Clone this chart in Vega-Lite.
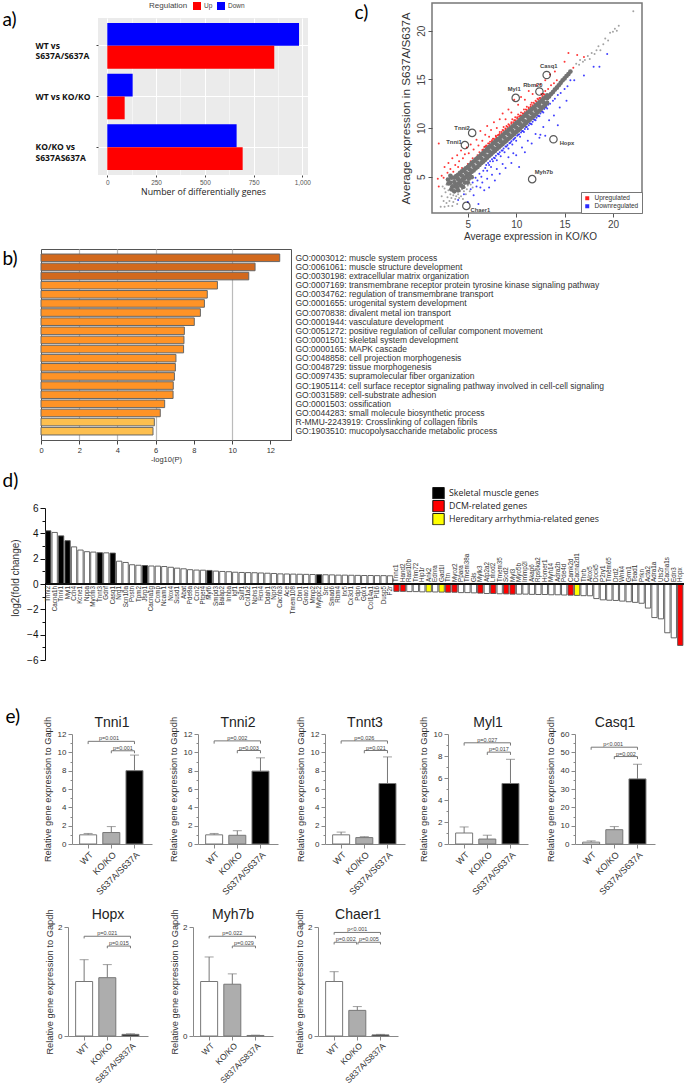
{"$schema":"https://vega.github.io/schema/vega-lite/v6.json","padding":0,"autosize":{"type":"pad"},"background":"white","bounds":"flush","spacing":0,"resolve":{"scale":{"color":"independent"},"legend":{"color":"independent"}},
"config":{"font":"Liberation Sans","view":{"stroke":null},"point":{"size":1,"strokeWidth":0},"axis":{"grid":false,"labelFontSize":8,"labelColor":"#333","domainColor":"#888","tickColor":"#888","tickSize":4,"titleFontSize":9.3,"titleFontWeight":"normal","titleColor":"#333","labelPadding":2,"labelOverlap":false,"labelFlush":false},"title":{"fontSize":14,"fontWeight":"normal","offset":-13.5,"color":"#222"}},
"datasets":{
"a":[{"c":"WT vs|S637A/S637A","r":"Down","v":983},{"c":"WT vs|S637A/S637A","r":"Up","v":856},{"c":"WT vs KO/KO","r":"Down","v":130},{"c":"WT vs KO/KO","r":"Up","v":89},{"c":"KO/KO vs|S637AS637A","r":"Down","v":663},{"c":"KO/KO vs|S637AS637A","r":"Up","v":694}],
"b":[{"n":"GO:0003012: muscle system process","v":12.49,"g":"h"},{"n":"GO:0061061: muscle structure development","v":11.2,"g":"h"},{"n":"GO:0030198: extracellular matrix organization","v":10.87,"g":"h"},{"n":"GO:0007169: transmembrane receptor protein tyrosine kinase signaling pathway","v":9.23,"g":"m"},{"n":"GO:0034762: regulation of transmembrane transport","v":8.7,"g":"m"},{"n":"GO:0001655: urogenital system development","v":8.55,"g":"m"},{"n":"GO:0070838: divalent metal ion transport","v":8.34,"g":"m"},{"n":"GO:0001944: vasculature development","v":8.02,"g":"m"},{"n":"GO:0051272: positive regulation of cellular component movement","v":7.5,"g":"m"},{"n":"GO:0001501: skeletal system development","v":7.48,"g":"m"},{"n":"GO:0000165: MAPK cascade","v":7.46,"g":"m"},{"n":"GO:0048858: cell projection morphogenesis","v":7.06,"g":"m"},{"n":"GO:0048729: tissue morphogenesis","v":7.03,"g":"m"},{"n":"GO:0097435: supramolecular fiber organization","v":6.98,"g":"m"},{"n":"GO:1905114: cell surface receptor signaling pathway involved in cell-cell signaling","v":6.92,"g":"m"},{"n":"GO:0031589: cell-substrate adhesion","v":6.91,"g":"m"},{"n":"GO:0001503: ossification","v":6.47,"g":"m"},{"n":"GO:0044283: small molecule biosynthetic process","v":6.24,"g":"m"},{"n":"R-MMU-2243919: Crosslinking of collagen fibrils","v":5.93,"g":"l"},{"n":"GO:1903510: mucopolysaccharide metabolic process","v":5.86,"g":"l"}],
"pts":[{"x":6.5,"y":7.75,"r":"u"},{"x":6.7,"y":8.05,"r":"u"},{"x":6.9,"y":8.2,"r":"u"},{"x":7.1,"y":8.4,"r":"u"},{"x":7.3,"y":8.6,"r":"u"},{"x":7.5,"y":8.75,"r":"u"},{"x":7.7,"y":8.9,"r":"u"},{"x":7.9,"y":9.1,"r":"u"},{"x":8.1,"y":9.25,"r":"u"},{"x":8.3,"y":9.4,"r":"u"},{"x":8.5,"y":9.6,"r":"u"},{"x":8.7,"y":9.75,"r":"u"},{"x":8.9,"y":9.95,"r":"u"},{"x":9.1,"y":10.1,"r":"u"},{"x":9.3,"y":10.3,"r":"u"},{"x":9.5,"y":10.45,"r":"u"},{"x":9.7,"y":10.6,"r":"u"},{"x":9.9,"y":10.8,"r":"u"},{"x":10.1,"y":10.95,"r":"u"},{"x":10.3,"y":11.15,"r":"u"},{"x":10.5,"y":11.3,"r":"u"},{"x":10.7,"y":11.5,"r":"u"},{"x":10.9,"y":11.65,"r":"u"},{"x":11.1,"y":11.85,"r":"u"},{"x":11.3,"y":12.0,"r":"u"},{"x":11.5,"y":12.2,"r":"u"},{"x":11.7,"y":12.35,"r":"u"},{"x":11.9,"y":12.5,"r":"u"},{"x":12.1,"y":12.7,"r":"u"},{"x":12.3,"y":12.9,"r":"u"},{"x":12.5,"y":13.1,"r":"u"},{"x":12.7,"y":13.3,"r":"u"},{"x":12.9,"y":13.45,"r":"u"},{"x":6.9,"y":6.2,"r":"d"},{"x":7.1,"y":6.4,"r":"d"},{"x":7.3,"y":6.6,"r":"d"},{"x":7.5,"y":6.8,"r":"d"},{"x":7.7,"y":6.95,"r":"d"},{"x":7.9,"y":7.15,"r":"d"},{"x":8.1,"y":7.35,"r":"d"},{"x":8.3,"y":7.5,"r":"d"},{"x":8.5,"y":7.7,"r":"d"},{"x":8.7,"y":7.9,"r":"d"},{"x":8.9,"y":8.1,"r":"d"},{"x":9.1,"y":8.25,"r":"d"},{"x":9.3,"y":8.45,"r":"d"},{"x":9.5,"y":8.65,"r":"d"},{"x":9.7,"y":8.8,"r":"d"},{"x":9.9,"y":9.0,"r":"d"},{"x":10.1,"y":9.2,"r":"d"},{"x":10.3,"y":9.35,"r":"d"},{"x":10.5,"y":9.55,"r":"d"},{"x":10.7,"y":9.7,"r":"d"},{"x":10.9,"y":9.9,"r":"d"},{"x":11.1,"y":10.1,"r":"d"},{"x":11.3,"y":10.3,"r":"d"},{"x":11.5,"y":10.45,"r":"d"},{"x":11.7,"y":10.65,"r":"d"},{"x":11.9,"y":10.85,"r":"d"},{"x":12.1,"y":11.05,"r":"d"},{"x":12.3,"y":11.25,"r":"d"},{"x":12.5,"y":11.5,"r":"d"},{"x":12.7,"y":11.7,"r":"d"},{"x":12.9,"y":11.95,"r":"d"},{"x":13.1,"y":12.15,"r":"d"},{"x":13.3,"y":12.4,"r":"d"},
{"x":5.0,"y":6.3,"r":"u"},{"x":5.3,"y":6.6,"r":"u"},{"x":5.5,"y":6.9,"r":"u"},{"x":5.8,"y":6.9,"r":"u"},{"x":6.0,"y":7.2,"r":"u"},{"x":6.2,"y":7.5,"r":"u"},{"x":6.4,"y":7.4,"r":"u"},{"x":6.6,"y":7.8,"r":"u"},{"x":6.8,"y":8.1,"r":"u"},{"x":7.0,"y":8.1,"r":"u"},{"x":7.2,"y":8.4,"r":"u"},{"x":7.3,"y":8.2,"r":"u"},{"x":7.5,"y":8.6,"r":"u"},{"x":7.6,"y":8.9,"r":"u"},{"x":7.8,"y":8.8,"r":"u"},{"x":7.9,"y":9.2,"r":"u"},{"x":8.0,"y":9.0,"r":"u"},{"x":8.2,"y":9.3,"r":"u"},{"x":8.3,"y":9.6,"r":"u"},{"x":8.5,"y":9.4,"r":"u"},{"x":8.6,"y":9.8,"r":"u"},{"x":8.7,"y":10.1,"r":"u"},{"x":8.9,"y":9.9,"r":"u"},{"x":9.0,"y":10.2,"r":"u"},{"x":9.2,"y":10.4,"r":"u"},{"x":9.3,"y":10.1,"r":"u"},{"x":9.5,"y":10.6,"r":"u"},{"x":9.6,"y":10.9,"r":"u"},{"x":9.8,"y":10.8,"r":"u"},{"x":9.9,"y":11.1,"r":"u"},{"x":10.1,"y":11.1,"r":"u"},{"x":10.2,"y":11.4,"r":"u"},{"x":10.4,"y":11.3,"r":"u"},{"x":10.5,"y":11.6,"r":"u"},{"x":10.7,"y":11.5,"r":"u"},{"x":10.8,"y":11.9,"r":"u"},{"x":11.0,"y":11.9,"r":"u"},{"x":11.1,"y":12.2,"r":"u"},{"x":11.3,"y":12.1,"r":"u"},{"x":11.5,"y":12.4,"r":"u"},{"x":11.6,"y":12.6,"r":"u"},{"x":11.8,"y":12.6,"r":"u"},{"x":12.0,"y":12.8,"r":"u"},{"x":12.2,"y":13.0,"r":"u"},{"x":12.4,"y":13.1,"r":"u"},{"x":12.6,"y":13.5,"r":"u"},{"x":12.8,"y":13.5,"r":"u"},{"x":13.0,"y":13.8,"r":"u"},{"x":13.3,"y":14.0,"r":"u"},{"x":13.6,"y":14.4,"r":"u"},{"x":13.9,"y":14.6,"r":"u"},{"x":14.2,"y":14.9,"r":"u"},{"x":2.0,"y":8.4,"r":"u"},{"x":1.9,"y":4.8,"r":"u"},{"x":2.0,"y":4.0,"r":"u"},{"x":2.3,"y":5.1,"r":"u"},{"x":2.5,"y":4.9,"r":"u"},{"x":2.6,"y":6.0,"r":"u"},{"x":2.9,"y":5.4,"r":"u"},{"x":3.0,"y":6.4,"r":"u"},{"x":3.2,"y":5.8,"r":"u"},{"x":3.4,"y":6.9,"r":"u"},{"x":3.5,"y":5.5,"r":"u"},{"x":3.7,"y":6.2,"r":"u"},{"x":3.9,"y":7.2,"r":"u"},{"x":4.0,"y":6.0,"r":"u"},{"x":4.1,"y":6.6,"r":"u"},{"x":4.3,"y":7.7,"r":"u"},{"x":4.4,"y":5.9,"r":"u"},{"x":4.5,"y":6.9,"r":"u"},{"x":4.7,"y":7.3,"r":"u"},{"x":4.9,"y":8.0,"r":"u"},{"x":5.1,"y":7.4,"r":"u"},{"x":5.3,"y":8.3,"r":"u"},{"x":5.6,"y":7.8,"r":"u"},{"x":5.9,"y":8.8,"r":"u"},{"x":6.1,"y":8.2,"r":"u"},{"x":6.3,"y":9.7,"r":"u"},{"x":6.5,"y":8.7,"r":"u"},{"x":6.8,"y":9.3,"r":"u"},{"x":7.0,"y":10.2,"r":"u"},{"x":7.2,"y":9.1,"r":"u"},{"x":7.4,"y":9.8,"r":"u"},{"x":7.7,"y":10.6,"r":"u"},{"x":8.0,"y":10.0,"r":"u"},{"x":8.3,"y":10.9,"r":"u"},{"x":8.6,"y":11.5,"r":"u"},{"x":8.9,"y":10.9,"r":"u"},{"x":9.2,"y":11.9,"r":"u"},{"x":9.5,"y":11.6,"r":"u"},{"x":9.8,"y":12.9,"r":"u"},{"x":10.2,"y":12.4,"r":"u"},{"x":10.5,"y":13.2,"r":"u"},{"x":10.9,"y":12.9,"r":"u"},{"x":11.3,"y":13.8,"r":"u"},{"x":11.7,"y":13.5,"r":"u"},{"x":12.1,"y":14.4,"r":"u"},{"x":12.5,"y":14.5,"r":"u"},{"x":13.0,"y":14.9,"r":"u"},{"x":13.5,"y":15.5,"r":"u"},{"x":14.0,"y":15.8,"r":"u"},{"x":15.0,"y":16.8,"r":"u"},{"x":15.4,"y":17.7,"r":"u"},{"x":16.3,"y":17.5,"r":"u"},{"x":15.9,"y":16.2,"r":"u"},{"x":17.0,"y":17.3,"r":"u"},
{"x":5.5,"y":4.4,"r":"d"},{"x":5.8,"y":4.9,"r":"d"},{"x":6.0,"y":4.6,"r":"d"},{"x":6.2,"y":5.3,"r":"d"},{"x":6.4,"y":5.0,"r":"d"},{"x":6.6,"y":5.6,"r":"d"},{"x":6.8,"y":5.9,"r":"d"},{"x":7.0,"y":5.6,"r":"d"},{"x":7.2,"y":6.2,"r":"d"},{"x":7.4,"y":6.0,"r":"d"},{"x":7.6,"y":6.6,"r":"d"},{"x":7.8,"y":6.9,"r":"d"},{"x":8.0,"y":6.7,"r":"d"},{"x":8.2,"y":7.3,"r":"d"},{"x":8.4,"y":7.1,"r":"d"},{"x":8.6,"y":7.7,"r":"d"},{"x":8.8,"y":7.5,"r":"d"},{"x":9.0,"y":8.1,"r":"d"},{"x":9.2,"y":7.9,"r":"d"},{"x":9.4,"y":8.5,"r":"d"},{"x":9.6,"y":8.3,"r":"d"},{"x":9.8,"y":8.9,"r":"d"},{"x":10.0,"y":8.7,"r":"d"},{"x":10.2,"y":9.3,"r":"d"},{"x":10.4,"y":9.1,"r":"d"},{"x":10.6,"y":9.7,"r":"d"},{"x":10.8,"y":9.6,"r":"d"},{"x":11.0,"y":10.1,"r":"d"},{"x":11.2,"y":9.9,"r":"d"},{"x":11.4,"y":10.5,"r":"d"},{"x":11.6,"y":10.4,"r":"d"},{"x":11.8,"y":10.9,"r":"d"},{"x":12.0,"y":10.8,"r":"d"},{"x":12.2,"y":11.3,"r":"d"},{"x":12.4,"y":11.2,"r":"d"},{"x":12.6,"y":11.7,"r":"d"},{"x":12.8,"y":11.6,"r":"d"},{"x":13.0,"y":12.1,"r":"d"},{"x":13.2,"y":12.0,"r":"d"},{"x":13.5,"y":12.5,"r":"d"},{"x":13.8,"y":12.8,"r":"d"},{"x":14.0,"y":13.0,"r":"d"},{"x":14.3,"y":13.4,"r":"d"},{"x":14.6,"y":13.6,"r":"d"},{"x":15.0,"y":14.0,"r":"d"},{"x":15.3,"y":14.3,"r":"d"},{"x":15.6,"y":14.9,"r":"d"},{"x":16.0,"y":14.9,"r":"d"},{"x":4.0,"y":2.6,"r":"d"},{"x":4.6,"y":3.2,"r":"d"},{"x":5.0,"y":2.4,"r":"d"},{"x":5.3,"y":3.7,"r":"d"},{"x":5.6,"y":3.1,"r":"d"},{"x":5.9,"y":4.0,"r":"d"},{"x":6.1,"y":2.2,"r":"d"},{"x":6.3,"y":3.9,"r":"d"},{"x":6.5,"y":4.4,"r":"d"},{"x":6.7,"y":3.6,"r":"d"},{"x":7.0,"y":4.8,"r":"d"},{"x":7.2,"y":3.9,"r":"d"},{"x":7.5,"y":5.2,"r":"d"},{"x":7.8,"y":4.6,"r":"d"},{"x":8.0,"y":5.8,"r":"d"},{"x":8.3,"y":5.3,"r":"d"},{"x":8.6,"y":6.3,"r":"d"},{"x":8.9,"y":5.9,"r":"d"},{"x":9.2,"y":7.0,"r":"d"},{"x":9.5,"y":6.4,"r":"d"},{"x":9.7,"y":7.4,"r":"d"},{"x":10.0,"y":7.2,"r":"d"},{"x":10.3,"y":6.0,"r":"d"},{"x":10.6,"y":8.0,"r":"d"},{"x":10.9,"y":7.5,"r":"d"},{"x":11.2,"y":8.7,"r":"d"},{"x":11.6,"y":8.4,"r":"d"},{"x":12.0,"y":9.4,"r":"d"},{"x":12.4,"y":9.0,"r":"d"},{"x":12.8,"y":10.1,"r":"d"},{"x":13.0,"y":9.2,"r":"d"},{"x":13.4,"y":10.8,"r":"d"},{"x":13.9,"y":11.3,"r":"d"},{"x":14.3,"y":10.3,"r":"d"},{"x":14.5,"y":12.1,"r":"d"},{"x":15.2,"y":12.8,"r":"d"},{"x":12.5,"y":9.3,"r":"d"},{"x":17.0,"y":15.4,"r":"d"},{"x":18.0,"y":16.3,"r":"d"},{"x":18.6,"y":16.3,"r":"d"},{"x":19.4,"y":17.6,"r":"d"},
{"x":2.2,"y":1.9,"r":"n"},{"x":2.6,"y":1.9,"r":"n"},{"x":3.0,"y":2.0,"r":"n"},{"x":3.4,"y":2.0,"r":"n"},{"x":2.3,"y":3.0,"r":"n"},{"x":2.5,"y":2.5,"r":"n"},{"x":2.7,"y":3.4,"r":"n"},{"x":2.8,"y":2.3,"r":"n"},{"x":2.9,"y":2.9,"r":"n"},{"x":3.0,"y":3.6,"r":"n"},{"x":3.1,"y":2.5,"r":"n"},{"x":3.2,"y":3.2,"r":"n"},{"x":3.3,"y":2.8,"r":"n"},{"x":3.4,"y":3.6,"r":"n"},{"x":3.5,"y":2.4,"r":"n"},{"x":3.5,"y":3.1,"r":"n"},{"x":3.6,"y":3.4,"r":"n"},{"x":3.7,"y":2.7,"r":"n"},{"x":3.8,"y":3.0,"r":"n"},{"x":3.9,"y":3.5,"r":"n"},{"x":3.9,"y":2.2,"r":"n"},{"x":4.0,"y":3.2,"r":"n"},{"x":4.1,"y":2.8,"r":"n"},{"x":4.2,"y":3.5,"r":"n"},{"x":4.3,"y":3.0,"r":"n"},{"x":4.4,"y":3.7,"r":"n"},{"x":4.5,"y":2.7,"r":"n"},{"x":4.6,"y":3.5,"r":"n"},{"x":4.7,"y":3.9,"r":"n"},{"x":4.8,"y":3.2,"r":"n"},{"x":4.9,"y":3.7,"r":"n"},{"x":5.0,"y":4.1,"r":"n"},{"x":5.2,"y":3.5,"r":"n"},{"x":5.3,"y":4.2,"r":"n"},{"x":5.5,"y":3.9,"r":"n"},{"x":2.4,"y":4.0,"r":"n"},{"x":2.8,"y":4.2,"r":"n"},{"x":2.6,"y":3.8,"r":"n"},{"x":3.0,"y":4.7,"r":"n"},{"x":3.1,"y":4.2,"r":"n"},{"x":16.2,"y":16.6,"r":"n"},{"x":16.5,"y":16.5,"r":"n"},{"x":16.6,"y":17.0,"r":"n"},{"x":16.9,"y":16.8,"r":"n"},{"x":17.1,"y":17.0,"r":"n"},{"x":17.4,"y":17.4,"r":"n"},{"x":17.6,"y":17.1,"r":"n"},{"x":17.8,"y":17.7,"r":"n"},{"x":18.1,"y":17.6,"r":"n"},{"x":18.3,"y":18.0,"r":"n"},{"x":18.5,"y":18.4,"r":"n"},{"x":18.7,"y":18.0,"r":"n"},{"x":19.0,"y":18.6,"r":"n"},{"x":19.2,"y":19.2,"r":"n"},{"x":19.5,"y":19.0,"r":"n"},{"x":19.7,"y":19.8,"r":"n"},{"x":20.0,"y":19.9,"r":"n"},{"x":20.2,"y":20.2,"r":"n"},{"x":20.4,"y":20.0,"r":"n"},{"x":20.6,"y":20.5,"r":"n"},{"x":22.1,"y":22.0,"r":"n"}],
"core":[{"x":3.6,"y":4.9},{"x":3.8,"y":5.05},{"x":4.0,"y":5.2},{"x":4.2,"y":5.4},{"x":4.4,"y":5.55},{"x":4.6,"y":5.7},{"x":4.8,"y":5.85},{"x":5.0,"y":6.0},{"x":5.2,"y":6.2},{"x":5.4,"y":6.4},{"x":5.6,"y":6.55},{"x":5.8,"y":6.75},{"x":6.0,"y":6.9},{"x":6.2,"y":7.1},{"x":6.4,"y":7.3},{"x":6.6,"y":7.45},{"x":6.8,"y":7.65},{"x":7.0,"y":7.85},{"x":7.2,"y":8.05},{"x":7.4,"y":8.2},{"x":7.6,"y":8.4},{"x":7.8,"y":8.55},{"x":8.0,"y":8.75},{"x":8.2,"y":8.9},{"x":8.4,"y":9.1},{"x":8.6,"y":9.25},{"x":8.8,"y":9.45},{"x":9.0,"y":9.6},{"x":9.2,"y":9.8},{"x":9.4,"y":9.95},{"x":9.6,"y":10.15},{"x":9.8,"y":10.3},{"x":10.0,"y":10.5},{"x":10.2,"y":10.65},{"x":10.4,"y":10.85},{"x":10.6,"y":11.05},{"x":10.8,"y":11.2},{"x":11.0,"y":11.4},{"x":11.2,"y":11.6},{"x":11.4,"y":11.75},{"x":11.6,"y":11.95},{"x":11.8,"y":12.1},{"x":12.0,"y":12.3},{"x":12.2,"y":12.45},{"x":12.4,"y":12.65},{"x":12.6,"y":12.8},{"x":12.8,"y":13.0},{"x":13.0,"y":13.15},{"x":13.2,"y":13.35},{"x":3.6,"y":4.0},{"x":3.8,"y":4.15},{"x":4.0,"y":4.3},{"x":4.2,"y":4.5},{"x":4.4,"y":4.65},{"x":4.6,"y":4.8},{"x":4.8,"y":4.95},{"x":5.0,"y":5.1},{"x":5.2,"y":5.3},{"x":5.4,"y":5.5},{"x":5.6,"y":5.65},{"x":5.8,"y":5.85},{"x":6.0,"y":6.0},{"x":6.2,"y":6.2},{"x":6.4,"y":6.4},{"x":6.6,"y":6.55},{"x":6.8,"y":6.75},{"x":7.0,"y":6.95},{"x":7.2,"y":7.15},{"x":7.4,"y":7.3},{"x":7.6,"y":7.5},{"x":7.8,"y":7.65},{"x":8.0,"y":7.85},{"x":8.2,"y":8.0},{"x":8.4,"y":8.2},{"x":8.6,"y":8.35},{"x":8.8,"y":8.55},{"x":9.0,"y":8.7},{"x":9.2,"y":8.9},{"x":9.4,"y":9.05},{"x":9.6,"y":9.25},{"x":9.8,"y":9.4},{"x":10.0,"y":9.6},{"x":10.2,"y":9.75},{"x":10.4,"y":9.95},{"x":10.6,"y":10.15},{"x":10.8,"y":10.3},{"x":11.0,"y":10.5},{"x":11.2,"y":10.7},{"x":11.4,"y":10.85},{"x":11.6,"y":11.05},{"x":11.8,"y":11.2},{"x":12.0,"y":11.4},{"x":12.2,"y":11.6},{"x":12.4,"y":11.8},{"x":12.6,"y":12.0},{"x":12.8,"y":12.2},{"x":13.0,"y":12.4},{"x":13.2,"y":12.6},{"x":3.6,"y":4.45},{"x":4.0,"y":4.75},{"x":4.4,"y":5.1},{"x":4.8,"y":5.4},{"x":5.2,"y":5.75},{"x":5.6,"y":6.1},{"x":6.0,"y":6.45},{"x":6.4,"y":6.85},{"x":6.8,"y":7.2},{"x":7.2,"y":7.6},{"x":7.6,"y":7.95},{"x":8.0,"y":8.3},{"x":8.4,"y":8.65},{"x":8.8,"y":9.0},{"x":9.2,"y":9.35},{"x":9.6,"y":9.7},{"x":10.0,"y":10.05},{"x":10.4,"y":10.4},{"x":10.8,"y":10.75},{"x":11.2,"y":11.15},{"x":11.6,"y":11.5},{"x":12.0,"y":11.85},{"x":12.4,"y":12.25},{"x":12.8,"y":12.65},{"x":13.2,"y":13.05},{"x":13.4,"y":13.25},{"x":13.6,"y":13.5},{"x":13.8,"y":13.7},{"x":14.0,"y":13.95},{"x":14.2,"y":14.15},{"x":14.4,"y":14.4},{"x":14.6,"y":14.65},{"x":14.8,"y":14.9},{"x":15.0,"y":15.1},{"x":15.2,"y":15.35},{"x":15.4,"y":15.55},{"x":15.6,"y":15.8},{"x":3.2,"y":4.4},{"x":3.4,"y":4.0},{"x":3.9,"y":3.9},{"x":4.3,"y":4.1},{"x":4.7,"y":4.4},{"x":3.3,"y":4.9},{"x":5.1,"y":4.8},{"x":3.0,"y":4.3},{"x":3.3,"y":3.7},{"x":3.6,"y":3.5},{"x":4.0,"y":3.6},{"x":4.5,"y":3.95},{"x":5.0,"y":4.4},{"x":5.4,"y":4.95},{"x":2.95,"y":4.7},{"x":3.2,"y":5.1}],
"genes":[{"g":"Casq1","x":13.15,"y":15.45,"lx":13.37,"ly":16.35},{"g":"Rbm20","x":12.4,"y":13.75,"lx":11.72,"ly":14.42},{"g":"Myl1","x":9.95,"y":13.1,"lx":9.79,"ly":13.98},{"g":"Tnni2","x":5.45,"y":9.5,"lx":4.41,"ly":9.97},{"g":"Tnni1","x":4.7,"y":8.25,"lx":3.58,"ly":8.6},{"g":"Hopx","x":13.85,"y":8.85,"lx":15.24,"ly":8.43},{"g":"Myh7b","x":11.65,"y":4.75,"lx":12.86,"ly":5.45},{"g":"Chaer1","x":4.85,"y":2.0,"lx":6.3,"ly":1.55}],
"d":[{"n":"Tnni2","v":4.2,"t":"s"},{"n":"Cacna1h","v":4.07,"t":"o"},{"n":"Tnni1","v":3.8,"t":"s"},{"n":"Myl1","v":3.42,"t":"s"},{"n":"Ccn4","v":2.93,"t":"o"},{"n":"Kcne1","v":2.68,"t":"o"},{"n":"Nppa","v":2.55,"t":"o"},{"n":"Myom3","v":2.52,"t":"o"},{"n":"Tnnt3","v":2.47,"t":"s"},{"n":"Gdnf","v":2.46,"t":"o"},{"n":"Casq1","v":2.44,"t":"s"},{"n":"Nrg1","v":1.8,"t":"o"},{"n":"Scn10a","v":1.7,"t":"o"},{"n":"Postn","v":1.52,"t":"o"},{"n":"Tpm2","v":1.48,"t":"o"},{"n":"Jsrp1","v":1.46,"t":"s"},{"n":"Cacna1g","v":1.42,"t":"o"},{"n":"Comp","v":1.41,"t":"o"},{"n":"Ncam1","v":1.38,"t":"o"},{"n":"Nox4","v":1.32,"t":"o"},{"n":"Susd1","v":1.25,"t":"o"},{"n":"Abat","v":1.2,"t":"o"},{"n":"Pde8a","v":1.13,"t":"o"},{"n":"Ccn2","v":1.1,"t":"o"},{"n":"Ptger4","v":1.09,"t":"o"},{"n":"Myf6","v":1.07,"t":"s"},{"n":"Smpd3","v":1.02,"t":"o"},{"n":"Baiap2","v":0.99,"t":"o"},{"n":"Inhba","v":0.97,"t":"o"},{"n":"Igf1","v":0.93,"t":"o"},{"n":"Sulf1","v":0.91,"t":"o"},{"n":"Col1a2","v":0.9,"t":"o"},{"n":"Nphs1","v":0.89,"t":"o"},{"n":"Hcn4","v":0.87,"t":"o"},{"n":"Ddah1","v":0.85,"t":"o"},{"n":"Npr3","v":0.83,"t":"o"},{"n":"Cacnb3","v":0.8,"t":"o"},{"n":"Ace","v":0.79,"t":"o"},{"n":"Tmem108","v":0.78,"t":"o"},{"n":"Dbn1","v":0.77,"t":"o"},{"n":"Gnao1","v":0.76,"t":"o"},{"n":"Mmp2","v":0.75,"t":"o"},{"n":"Mybpc2","v":0.74,"t":"s"},{"n":"Src","v":0.73,"t":"o"},{"n":"Smad6","v":0.72,"t":"o"},{"n":"Rbm4","v":0.7,"t":"o"},{"n":"Irx5","v":0.7,"t":"o"},{"n":"Cx3cl1","v":0.69,"t":"o"},{"n":"Pdpn","v":0.68,"t":"o"},{"n":"Gpx1","v":0.67,"t":"o"},{"n":"Col14a1","v":0.67,"t":"o"},{"n":"Pi16","v":0.66,"t":"o"},{"n":"Dusp5","v":0.66,"t":"o"},{"n":"F2r","v":0.65,"t":"o"},{"n":"Tnnc1","v":-0.58,"t":"r"},{"n":"Hand2","v":-0.58,"t":"r"},{"n":"Rasl10b","v":-0.6,"t":"o"},{"n":"Trim72","v":-0.6,"t":"o"},{"n":"Hip1r","v":-0.62,"t":"o"},{"n":"Ank2","v":-0.62,"t":"y"},{"n":"Ednra","v":-0.63,"t":"o"},{"n":"Gad1l","v":-0.64,"t":"y"},{"n":"Ttn","v":-0.65,"t":"r"},{"n":"Myoz2","v":-0.65,"t":"r"},{"n":"Ppara","v":-0.68,"t":"o"},{"n":"Tmem38a","v":-0.68,"t":"o"},{"n":"Gls","v":-0.7,"t":"o"},{"n":"Mylk3","v":-0.72,"t":"r"},{"n":"Atp2a2","v":-0.75,"t":"o"},{"n":"Lmod2","v":-0.75,"t":"r"},{"n":"Tmem35","v":-0.77,"t":"o"},{"n":"Sod2","v":-0.78,"t":"r"},{"n":"Myl3","v":-0.8,"t":"r"},{"n":"Myo5b","v":-0.8,"t":"o"},{"n":"Immp2l","v":-0.8,"t":"o"},{"n":"Akap6","v":-0.82,"t":"o"},{"n":"Rps6ka2","v":-0.83,"t":"o"},{"n":"Homer1","v":-0.83,"t":"o"},{"n":"Myh14","v":-0.85,"t":"o"},{"n":"Adra2b","v":-0.85,"t":"o"},{"n":"Pde4d","v":-0.87,"t":"o"},{"n":"Camk2d","v":-0.88,"t":"r"},{"n":"Cacna2d1","v":-0.9,"t":"y"},{"n":"Thrb","v":-0.92,"t":"o"},{"n":"Alox5","v":-0.93,"t":"o"},{"n":"Dock5","v":-1.15,"t":"o"},{"n":"P2ry1","v":-1.25,"t":"o"},{"n":"Tmem65","v":-1.28,"t":"o"},{"n":"Drd2","v":-1.3,"t":"o"},{"n":"Wnk4","v":-1.35,"t":"o"},{"n":"Grm1","v":-1.4,"t":"o"},{"n":"Tead1","v":-1.45,"t":"o"},{"n":"Prkn","v":-1.52,"t":"o"},{"n":"Acta2","v":-1.9,"t":"o"},{"n":"Adra1a","v":-2.65,"t":"o"},{"n":"Uts2r","v":-2.75,"t":"o"},{"n":"Cacna1s","v":-3.85,"t":"o"},{"n":"Edn3","v":-4.25,"t":"o"},{"n":"Hopx","v":-4.85,"t":"r"}],
"e":[{"g":"Tnni1","k":"b","x":0,"y":1},{"g":"Tnni1","k":"b","x":1,"y":1.25},{"g":"Tnni1","k":"b","x":2,"y":8},{"g":"Tnni1","k":"c","x":0,"y":1.15,"y2":1},{"g":"Tnni1","k":"c","x":1,"y":1.9,"y2":1.25},{"g":"Tnni1","k":"c","x":2,"y":9.7,"y2":8},{"g":"Tnni1","k":"r","x":0,"x2":2,"y":11.2},{"g":"Tnni1","k":"r","x":1,"x2":2,"y":10.17},{"g":"Tnni1","k":"t","x":0,"y":11.2,"y2":10.9},{"g":"Tnni1","k":"t","x":2,"y":11.2,"y2":10.9},{"g":"Tnni1","k":"t","x":1,"y":10.17,"y2":9.9},{"g":"Tnni1","k":"t","x":2,"y":10.17,"y2":9.9},{"g":"Tnni1","k":"p","x":0.9,"y":11.2,"p":"p=0.001"},{"g":"Tnni1","k":"p","x":1.5,"y":10.17,"p":"p=0.001"},
{"g":"Tnni2","k":"b","x":0,"y":1},{"g":"Tnni2","k":"b","x":1,"y":0.95},{"g":"Tnni2","k":"b","x":2,"y":7.95},{"g":"Tnni2","k":"c","x":0,"y":1.15,"y2":1},{"g":"Tnni2","k":"c","x":1,"y":1.45,"y2":0.95},{"g":"Tnni2","k":"c","x":2,"y":9.4,"y2":7.95},{"g":"Tnni2","k":"r","x":0,"x2":2,"y":11.25},{"g":"Tnni2","k":"r","x":1,"x2":2,"y":10.2},{"g":"Tnni2","k":"t","x":0,"y":11.25,"y2":10.95},{"g":"Tnni2","k":"t","x":2,"y":11.25,"y2":10.95},{"g":"Tnni2","k":"t","x":1,"y":10.2,"y2":9.9},{"g":"Tnni2","k":"t","x":2,"y":10.2,"y2":9.9},{"g":"Tnni2","k":"p","x":1,"y":11.25,"p":"p=0.002"},{"g":"Tnni2","k":"p","x":1.5,"y":10.2,"p":"p=0.003"},
{"g":"Tnnt3","k":"b","x":0,"y":1},{"g":"Tnnt3","k":"b","x":1,"y":0.7},{"g":"Tnnt3","k":"b","x":2,"y":6.6},{"g":"Tnnt3","k":"c","x":0,"y":1.3,"y2":1},{"g":"Tnnt3","k":"c","x":1,"y":0.8,"y2":0.7},{"g":"Tnnt3","k":"c","x":2,"y":9.5,"y2":6.6},{"g":"Tnnt3","k":"r","x":0,"x2":2,"y":11.25},{"g":"Tnnt3","k":"r","x":1,"x2":2,"y":10.2},{"g":"Tnnt3","k":"t","x":0,"y":11.25,"y2":10.95},{"g":"Tnnt3","k":"t","x":2,"y":11.25,"y2":10.95},{"g":"Tnnt3","k":"t","x":1,"y":10.2,"y2":9.9},{"g":"Tnnt3","k":"t","x":2,"y":10.2,"y2":9.9},{"g":"Tnnt3","k":"p","x":1,"y":11.25,"p":"p=0.026"},{"g":"Tnnt3","k":"p","x":1.5,"y":10.2,"p":"p=0.021"},
{"g":"Myl1","k":"b","x":0,"y":1},{"g":"Myl1","k":"b","x":1,"y":0.45},{"g":"Myl1","k":"b","x":2,"y":5.5},{"g":"Myl1","k":"c","x":0,"y":1.55,"y2":1},{"g":"Myl1","k":"c","x":1,"y":0.8,"y2":0.45},{"g":"Myl1","k":"c","x":2,"y":7.7,"y2":5.5},{"g":"Myl1","k":"r","x":0,"x2":2,"y":9.2},{"g":"Myl1","k":"r","x":1,"x2":2,"y":8.35},{"g":"Myl1","k":"t","x":0,"y":9.2,"y2":8.95},{"g":"Myl1","k":"t","x":2,"y":9.2,"y2":8.95},{"g":"Myl1","k":"t","x":1,"y":8.35,"y2":8.1},{"g":"Myl1","k":"t","x":2,"y":8.35,"y2":8.1},{"g":"Myl1","k":"p","x":1,"y":9.2,"p":"p=0.027"},{"g":"Myl1","k":"p","x":1.5,"y":8.35,"p":"p=0.017"},
{"g":"Casq1","k":"b","x":0,"y":1},{"g":"Casq1","k":"b","x":1,"y":7.8},{"g":"Casq1","k":"b","x":2,"y":35.5},{"g":"Casq1","k":"c","x":0,"y":1.7,"y2":1},{"g":"Casq1","k":"c","x":1,"y":9.5,"y2":7.8},{"g":"Casq1","k":"c","x":2,"y":43.5,"y2":35.5},{"g":"Casq1","k":"r","x":0,"x2":2,"y":52.8},{"g":"Casq1","k":"r","x":1,"x2":2,"y":47.7},{"g":"Casq1","k":"t","x":0,"y":52.8,"y2":51.4},{"g":"Casq1","k":"t","x":2,"y":52.8,"y2":51.4},{"g":"Casq1","k":"t","x":1,"y":47.7,"y2":46.3},{"g":"Casq1","k":"t","x":2,"y":47.7,"y2":46.3},{"g":"Casq1","k":"p","x":0.95,"y":52.8,"p":"p<0.001"},{"g":"Casq1","k":"p","x":1.5,"y":47.7,"p":"p=0.002"},
{"g":"Hopx","k":"b","x":0,"y":1},{"g":"Hopx","k":"b","x":1,"y":1.07},{"g":"Hopx","k":"b","x":2,"y":0.03},{"g":"Hopx","k":"c","x":0,"y":1.4,"y2":1},{"g":"Hopx","k":"c","x":1,"y":1.31,"y2":1.07},{"g":"Hopx","k":"c","x":2,"y":0.04,"y2":0.03},{"g":"Hopx","k":"r","x":0,"x2":2,"y":1.83},{"g":"Hopx","k":"r","x":1,"x2":2,"y":1.65},{"g":"Hopx","k":"t","x":0,"y":1.83,"y2":1.79},{"g":"Hopx","k":"t","x":2,"y":1.83,"y2":1.79},{"g":"Hopx","k":"t","x":1,"y":1.65,"y2":1.61},{"g":"Hopx","k":"t","x":2,"y":1.65,"y2":1.61},{"g":"Hopx","k":"p","x":1,"y":1.83,"p":"p=0.021"},{"g":"Hopx","k":"p","x":1.5,"y":1.65,"p":"p=0.015"},
{"g":"Myh7b","k":"b","x":0,"y":1},{"g":"Myh7b","k":"b","x":1,"y":0.95},{"g":"Myh7b","k":"b","x":2,"y":0.01},{"g":"Myh7b","k":"c","x":0,"y":1.45,"y2":1},{"g":"Myh7b","k":"c","x":1,"y":1.14,"y2":0.95},{"g":"Myh7b","k":"c","x":2,"y":0.015,"y2":0.01},{"g":"Myh7b","k":"r","x":0,"x2":2,"y":1.83},{"g":"Myh7b","k":"r","x":1,"x2":2,"y":1.65},{"g":"Myh7b","k":"t","x":0,"y":1.83,"y2":1.79},{"g":"Myh7b","k":"t","x":2,"y":1.83,"y2":1.79},{"g":"Myh7b","k":"t","x":1,"y":1.65,"y2":1.61},{"g":"Myh7b","k":"t","x":2,"y":1.65,"y2":1.61},{"g":"Myh7b","k":"p","x":1,"y":1.83,"p":"p=0.022"},{"g":"Myh7b","k":"p","x":1.5,"y":1.65,"p":"p=0.029"},
{"g":"Chaer1","k":"b","x":0,"y":1},{"g":"Chaer1","k":"b","x":1,"y":0.47},{"g":"Chaer1","k":"b","x":2,"y":0.02},{"g":"Chaer1","k":"c","x":0,"y":1.18,"y2":1},{"g":"Chaer1","k":"c","x":1,"y":0.54,"y2":0.47},{"g":"Chaer1","k":"c","x":2,"y":0.03,"y2":0.02},{"g":"Chaer1","k":"r","x":0,"x2":2,"y":1.9},{"g":"Chaer1","k":"r","x":0,"x2":0.97,"y":1.72},{"g":"Chaer1","k":"r","x":1.03,"x2":2,"y":1.72},{"g":"Chaer1","k":"t","x":0,"y":1.9,"y2":1.86},{"g":"Chaer1","k":"t","x":2,"y":1.9,"y2":1.86},{"g":"Chaer1","k":"t","x":0,"y":1.72,"y2":1.68},{"g":"Chaer1","k":"t","x":0.97,"y":1.72,"y2":1.68},{"g":"Chaer1","k":"t","x":1.03,"y":1.72,"y2":1.68},{"g":"Chaer1","k":"t","x":2,"y":1.72,"y2":1.68},{"g":"Chaer1","k":"p","x":1,"y":1.9,"p":"p<0.001"},{"g":"Chaer1","k":"p","x":0.5,"y":1.72,"p":"p=0.002"},{"g":"Chaer1","k":"p","x":1.5,"y":1.72,"p":"p=0.005"}]
},
"vconcat":[
{"width":1,"height":3,"data":{"values":[{}]},"mark":{"type":"point","opacity":0}},
{"resolve":{"scale":{"color":"independent"},"legend":{"color":"independent"}},"hconcat":[{"width":432,"height":1,"data":{"values":[{}]},"mark":{"type":"point","opacity":0}},
{"width":210,"height":210,"view":{"stroke":"#777","strokeWidth":1.5},"layer":[
{"data":{"name":"pts"},"mark":{"type":"point","filled":true,"size":4,"opacity":0.9},"encoding":{"x":{"field":"x","type":"quantitative","scale":{"domain":[1.3,23],"nice":false},"axis":{"values":[5,10,15,20],"title":"Average expression in KO/KO","titleFontSize":10,"titleX":98,"titlePadding":2,"labelFontSize":10,"labelColor":"#444","tickColor":"#555","tickSize":4,"domain":false}},"y":{"field":"y","type":"quantitative","scale":{"domain":[1.27,22.85],"nice":false},"axis":{"values":[5,10,15,20],"title":"Average expression in S637A/S637A","titleFontSize":11.7,"titlePadding":5,"labelAngle":-90,"labelAlign":"center","labelBaseline":"bottom","labelFontSize":10,"labelColor":"#444","tickColor":"#555","tickSize":4,"domain":false}},"color":{"field":"r","type":"nominal","scale":{"domain":["u","d","n"],"range":["#ff2020","#2a2aff","#999999"]},"legend":{"orient":"bottom-right","offset":0,"title":null,"values":["u","d"],"labelExpr":"datum.value=='u'?'Upregulated':'Downregulated'","labelFontSize":6.5,"labelColor":"#333","symbolType":"square","symbolSize":16,"symbolOpacity":1,"strokeColor":"#777","fillColor":"white","padding":3,"rowPadding":1}}}},
{"data":{"name":"core"},"mark":{"type":"point","filled":true,"size":22,"opacity":1,"color":"#737373"},"encoding":{"x":{"field":"x","type":"quantitative"},"y":{"field":"y","type":"quantitative"}}},
{"data":{"name":"genes"},"mark":{"type":"point","size":55,"stroke":"#111","strokeWidth":1.2,"fill":null},"encoding":{"x":{"field":"x","type":"quantitative"},"y":{"field":"y","type":"quantitative"}}},
{"data":{"name":"genes"},"mark":{"type":"text","fontSize":5.8,"fontWeight":"bold","color":"#444"},"encoding":{"x":{"field":"lx","type":"quantitative"},"y":{"field":"ly","type":"quantitative"},"text":{"field":"g"}}}
]}],"spacing":0,"bounds":"flush"},
{"width":1,"height":9,"data":{"values":[{}]},"mark":{"type":"point","opacity":0}},
{"hconcat":[{"width":354,"height":1,"data":{"values":[{}]},"mark":{"type":"point","opacity":0}},{"width":1,"height":1,"data":{"values":[{"t":"c)"}]},"mark":{"type":"text","align":"left","fontSize":19,"font":"Lato"},"encoding":{"text":{"field":"t"}}}],"spacing":0,"bounds":"flush"},
{"width":1,"height":6,"data":{"values":[{}]},"mark":{"type":"point","opacity":0}},
{"resolve":{"scale":{"color":"independent"},"legend":{"color":"independent"}},"hconcat":[{"width":98,"height":1,"data":{"values":[{}]},"mark":{"type":"point","opacity":0}},
{"width":210,"height":157,"view":{"fill":"#ebebeb","stroke":null},"data":{"name":"a"},"mark":{"type":"bar"},"encoding":{"x":{"field":"v","type":"quantitative","scale":{"domain":[-47.7,1029],"nice":false},"axis":{"values":[0,125,250,375,500,625,750,875,1000],"title":"Number of differentially genes","titleFontSize":8.8,"titleFont":"Open Sans","titleColor":"#222","titlePadding":2,"grid":true,"gridColor":"white","gridWidth":{"condition":{"test":"datum.value%250!=0","value":0.5},"value":1},"labelExpr":"datum.value%250?'':datum.label","labelFontSize":6.5,"labelColor":"#555","tickSize":{"condition":{"test":"datum.value%250!=0","value":0},"value":2},"tickColor":"#444","domain":false}},"y":{"field":"c","type":"nominal","sort":null,"scale":{"paddingInner":0.1,"paddingOuter":0.1},"axis":{"title":null,"grid":true,"gridColor":"white","labelAlign":"left","labelPadding":61,"labelFont":"Open Sans","labelFontWeight":"bold","labelFontSize":8.5,"labelColor":"#111","labelExpr":"split(datum.label,'|')","tickSize":2,"tickColor":"#444","domain":false}},"yOffset":{"field":"r","sort":["Down","Up"]},"color":{"field":"r","type":"nominal","scale":{"domain":["Up","Down"],"range":["#ff0000","#0000ff"]},"legend":{"orient":"none","legendX":51,"legendY":-16,"direction":"horizontal","title":"Regulation","titleOrient":"left","titleFontSize":8,"titleFontWeight":"normal","titleColor":"#444","labelFontSize":6.5,"labelColor":"#444","symbolType":"square","symbolSize":64,"symbolStrokeWidth":0,"columnPadding":4,"labelOffset":3}}}}],"spacing":0,"bounds":"flush"},
{"width":1,"height":1,"data":{"values":[{}]},"mark":{"type":"point","opacity":0}},
{"hconcat":[{"width":2,"height":1,"data":{"values":[{}]},"mark":{"type":"point","opacity":0}},{"width":1,"height":1,"data":{"values":[{"t":"a)"}]},"mark":{"type":"text","align":"left","fontSize":19,"font":"Lato"},"encoding":{"text":{"field":"t"}}}],"spacing":0,"bounds":"flush"},
{"width":1,"height":230,"data":{"values":[{}]},"mark":{"type":"point","opacity":0}},
{"hconcat":[{"width":41,"height":1,"data":{"values":[{}]},"mark":{"type":"point","opacity":0}},
{"width":250,"height":191,"view":{"stroke":"#555","strokeWidth":1},"data":{"name":"b"},"mark":{"type":"bar","stroke":"#666","strokeWidth":1},"encoding":{"x":{"field":"v","type":"quantitative","scale":{"domain":[0,13.08],"nice":false},"axis":{"values":[0,2,4,6,8,10,12],"title":"-log10(P)","grid":true,"gridColor":"#bbb","gridWidth":1.2,"gridOpacity":{"condition":{"test":"datum.value==8||datum.value==12||datum.value==0","value":0},"value":1},"labelFontSize":7.5,"titleFontSize":7.5,"titlePadding":2,"domain":false,"tickColor":"#444"}},"y":{"field":"n","type":"nominal","sort":null,"scale":{"paddingInner":0.17,"paddingOuter":0.55},"axis":{"orient":"right","title":null,"ticks":false,"domain":false,"labelFontSize":8.5,"labelLimit":0,"labelPadding":4,"labelColor":"#333"}},"color":{"field":"g","type":"nominal","scale":{"domain":["h","m","l"],"range":["#d2691e","#ff9326","#fdbf4f"]},"legend":null}}}],"spacing":0,"bounds":"flush"},
{"width":1,"height":9,"data":{"values":[{}]},"mark":{"type":"point","opacity":0}},
{"hconcat":[{"width":2,"height":1,"data":{"values":[{}]},"mark":{"type":"point","opacity":0}},{"width":1,"height":1,"data":{"values":[{"t":"b)"}]},"mark":{"type":"text","align":"left","fontSize":19,"font":"Lato"},"encoding":{"text":{"field":"t"}}}],"spacing":0,"bounds":"flush"},
{"width":1,"height":222,"data":{"values":[{}]},"mark":{"type":"point","opacity":0}},
{"hconcat":[{"width":2,"height":1,"data":{"values":[{}]},"mark":{"type":"point","opacity":0}},{"width":1,"height":1,"data":{"values":[{"t":"d)"}]},"mark":{"type":"text","align":"left","fontSize":19,"font":"Lato"},"encoding":{"text":{"field":"t"}}}],"spacing":0,"bounds":"flush"},
{"width":1,"height":28,"data":{"values":[{}]},"mark":{"type":"point","opacity":0}},
{"resolve":{"scale":{"color":"independent"},"legend":{"color":"independent"}},"hconcat":[{"width":44.3,"height":1,"data":{"values":[{}]},"mark":{"type":"point","opacity":0}},
{"width":638.5,"height":152,"data":{"name":"d"},"encoding":{"x":{"field":"n","type":"nominal","sort":null,"axis":null,"scale":{"paddingInner":0.18,"paddingOuter":0.09}},"y":{"field":"v","type":"quantitative","scale":{"domain":[-6,6],"nice":false},"axis":{"values":[-6,-5,-4,-3,-2,-1,0,1,2,3,4,5,6],"title":"log2(fold change)","titleFontSize":10,"titlePadding":6,"titleY":69.5,"labelFontSize":10,"labelColor":"#111","labelExpr":"datum.value%2?'':datum.label","domainColor":"#111","tickColor":"#111","tickSize":{"condition":{"test":"datum.value%2!=0","value":3},"value":5}}}},
"layer":[
{"mark":{"type":"bar","stroke":"#555","strokeWidth":0.9},"encoding":{"color":{"field":"t","type":"nominal","scale":{"domain":["s","r","y","o"],"range":["#000000","#ff0000","#ffff00","#ffffff"]},"legend":{"orient":"none","legendX":387,"legendY":-21,"title":null,"values":["s","r","y"],"labelExpr":"datum.value=='s'?'Skeletal muscle genes':datum.value=='r'?'DCM-related genes':'Hereditary arrhythmia-related genes'","labelFont":"Open Sans","labelFontSize":8.8,"labelColor":"#222","labelLimit":0,"symbolType":"square","symbolSize":130,"symbolStrokeColor":"#111","symbolStrokeWidth":1,"rowPadding":0,"clipHeight":12.3}}}},
{"transform":[{"filter":"datum.v>0"}],"mark":{"type":"text","angle":270,"align":"right","baseline":"middle","dx":-2,"fontSize":6.3,"color":"#333"},"encoding":{"y":{"datum":0},"text":{"field":"n"}}},
{"transform":[{"filter":"datum.v<0"}],"mark":{"type":"text","angle":270,"align":"left","baseline":"middle","dx":2,"fontSize":6.3,"color":"#333"},"encoding":{"y":{"datum":0},"text":{"field":"n"}}},
{"mark":{"type":"rule","color":"#111","strokeWidth":1},"encoding":{"x":{},"y":{"datum":0}}}
]}],"spacing":0,"bounds":"flush"},
{"width":1,"height":208,"data":{"values":[{}]},"mark":{"type":"point","opacity":0}},
{"hconcat":[{"width":5,"height":1,"data":{"values":[{}]},"mark":{"type":"point","opacity":0}},{"width":1,"height":1,"data":{"values":[{"t":"e)"}]},"mark":{"type":"text","align":"left","fontSize":19,"font":"Lato"},"encoding":{"text":{"field":"t"}}}],"spacing":0,"bounds":"flush"},
{"width":1,"height":18,"data":{"values":[{}]},"mark":{"type":"point","opacity":0}},
{"hconcat":[{"width":72,"height":1,"data":{"values":[{}]},"mark":{"type":"point","opacity":0}},
{"width":80,"height":110,"title":"Tnni1","data":{"name":"e"},"transform":[{"filter":"datum.g=='Tnni1'"}],"encoding":{"x":{"field":"x","type":"quantitative","scale":{"domain":[-0.48,2.54],"nice":false},"axis":{"values":[0,1,2],"title":null,"labelAngle":-45,"labelAlign":"right","labelBaseline":"top","labelFontSize":9,"labelExpr":"datum.value==0?'WT':datum.value==1?'KO/KO':'S637A/S637A'"}},"y":{"field":"y","type":"quantitative","scale":{"domain":[0,12],"nice":false},"axis":{"values":[0,1,2,3,4,5,6,7,8,9,10,11,12],"title":"Relative gene expression to Gapdh","titlePadding":4.5,"labelExpr":"datum.value%2?'':datum.label","tickSize":{"condition":{"test":"datum.value%2!=0","value":2},"value":4}}}},"layer":[{"transform":[{"filter":"datum.k=='c'||datum.k=='t'"}],"mark":{"type":"rule","color":"#777"},"encoding":{"y2":{"field":"y2"}}},{"transform":[{"filter":"datum.k=='c'"}],"mark":{"type":"tick","orient":"horizontal","size":9,"thickness":1,"color":"#777"}},{"transform":[{"filter":"datum.k=='b'"}],"mark":{"type":"bar","size":17,"stroke":"#777","orient":"vertical"},"encoding":{"color":{"field":"x","type":"nominal","scale":{"domain":[0,1,2],"range":["#ffffff","#adadad","#000000"]},"legend":null}}},{"transform":[{"filter":"datum.k=='r'"}],"mark":{"type":"rule","color":"#777"},"encoding":{"x2":{"field":"x2"}}},{"transform":[{"filter":"datum.k=='p'"}],"mark":{"type":"text","fontSize":5.5,"dy":-3,"color":"#444"},"encoding":{"text":{"field":"p"}}}]},
{"width":46,"height":1,"data":{"values":[{}]},"mark":{"type":"point","opacity":0}},
{"width":80,"height":110,"title":"Tnni2","data":{"name":"e"},"transform":[{"filter":"datum.g=='Tnni2'"}],"encoding":{"x":{"field":"x","type":"quantitative","scale":{"domain":[-0.48,2.54],"nice":false},"axis":{"values":[0,1,2],"title":null,"labelAngle":-45,"labelAlign":"right","labelBaseline":"top","labelFontSize":9,"labelExpr":"datum.value==0?'WT':datum.value==1?'KO/KO':'S637A/S637A'"}},"y":{"field":"y","type":"quantitative","scale":{"domain":[0,12],"nice":false},"axis":{"values":[0,1,2,3,4,5,6,7,8,9,10,11,12],"title":"Relative gene expression to Gapdh","titlePadding":4.5,"labelExpr":"datum.value%2?'':datum.label","tickSize":{"condition":{"test":"datum.value%2!=0","value":2},"value":4}}}},"layer":[{"transform":[{"filter":"datum.k=='c'||datum.k=='t'"}],"mark":{"type":"rule","color":"#777"},"encoding":{"y2":{"field":"y2"}}},{"transform":[{"filter":"datum.k=='c'"}],"mark":{"type":"tick","orient":"horizontal","size":9,"thickness":1,"color":"#777"}},{"transform":[{"filter":"datum.k=='b'"}],"mark":{"type":"bar","size":17,"stroke":"#777","orient":"vertical"},"encoding":{"color":{"field":"x","type":"nominal","scale":{"domain":[0,1,2],"range":["#ffffff","#adadad","#000000"]},"legend":null}}},{"transform":[{"filter":"datum.k=='r'"}],"mark":{"type":"rule","color":"#777"},"encoding":{"x2":{"field":"x2"}}},{"transform":[{"filter":"datum.k=='p'"}],"mark":{"type":"text","fontSize":5.5,"dy":-3,"color":"#444"},"encoding":{"text":{"field":"p"}}}]},
{"width":47,"height":1,"data":{"values":[{}]},"mark":{"type":"point","opacity":0}},
{"width":80,"height":110,"title":"Tnnt3","data":{"name":"e"},"transform":[{"filter":"datum.g=='Tnnt3'"}],"encoding":{"x":{"field":"x","type":"quantitative","scale":{"domain":[-0.48,2.54],"nice":false},"axis":{"values":[0,1,2],"title":null,"labelAngle":-45,"labelAlign":"right","labelBaseline":"top","labelFontSize":9,"labelExpr":"datum.value==0?'WT':datum.value==1?'KO/KO':'S637A/S637A'"}},"y":{"field":"y","type":"quantitative","scale":{"domain":[0,12],"nice":false},"axis":{"values":[0,1,2,3,4,5,6,7,8,9,10,11,12],"title":"Relative gene expression to Gapdh","titlePadding":4.5,"labelExpr":"datum.value%2?'':datum.label","tickSize":{"condition":{"test":"datum.value%2!=0","value":2},"value":4}}}},"layer":[{"transform":[{"filter":"datum.k=='c'||datum.k=='t'"}],"mark":{"type":"rule","color":"#777"},"encoding":{"y2":{"field":"y2"}}},{"transform":[{"filter":"datum.k=='c'"}],"mark":{"type":"tick","orient":"horizontal","size":9,"thickness":1,"color":"#777"}},{"transform":[{"filter":"datum.k=='b'"}],"mark":{"type":"bar","size":17,"stroke":"#777","orient":"vertical"},"encoding":{"color":{"field":"x","type":"nominal","scale":{"domain":[0,1,2],"range":["#ffffff","#adadad","#000000"]},"legend":null}}},{"transform":[{"filter":"datum.k=='r'"}],"mark":{"type":"rule","color":"#777"},"encoding":{"x2":{"field":"x2"}}},{"transform":[{"filter":"datum.k=='p'"}],"mark":{"type":"text","fontSize":5.5,"dy":-3,"color":"#444"},"encoding":{"text":{"field":"p"}}}]},
{"width":43,"height":1,"data":{"values":[{}]},"mark":{"type":"point","opacity":0}},
{"width":80,"height":110,"title":"Myl1","data":{"name":"e"},"transform":[{"filter":"datum.g=='Myl1'"}],"encoding":{"x":{"field":"x","type":"quantitative","scale":{"domain":[-0.48,2.54],"nice":false},"axis":{"values":[0,1,2],"title":null,"labelAngle":-45,"labelAlign":"right","labelBaseline":"top","labelFontSize":9,"labelExpr":"datum.value==0?'WT':datum.value==1?'KO/KO':'S637A/S637A'"}},"y":{"field":"y","type":"quantitative","scale":{"domain":[0,10],"nice":false},"axis":{"values":[0,1,2,3,4,5,6,7,8,9,10],"title":"Relative gene expression to Gapdh","titlePadding":4.5,"labelExpr":"datum.value%2?'':datum.label","tickSize":{"condition":{"test":"datum.value%2!=0","value":2},"value":4}}}},"layer":[{"transform":[{"filter":"datum.k=='c'||datum.k=='t'"}],"mark":{"type":"rule","color":"#777"},"encoding":{"y2":{"field":"y2"}}},{"transform":[{"filter":"datum.k=='c'"}],"mark":{"type":"tick","orient":"horizontal","size":9,"thickness":1,"color":"#777"}},{"transform":[{"filter":"datum.k=='b'"}],"mark":{"type":"bar","size":17,"stroke":"#777","orient":"vertical"},"encoding":{"color":{"field":"x","type":"nominal","scale":{"domain":[0,1,2],"range":["#ffffff","#adadad","#000000"]},"legend":null}}},{"transform":[{"filter":"datum.k=='r'"}],"mark":{"type":"rule","color":"#777"},"encoding":{"x2":{"field":"x2"}}},{"transform":[{"filter":"datum.k=='p'"}],"mark":{"type":"text","fontSize":5.5,"dy":-3,"color":"#444"},"encoding":{"text":{"field":"p"}}}]},
{"width":47,"height":1,"data":{"values":[{}]},"mark":{"type":"point","opacity":0}},
{"width":80,"height":110,"title":"Casq1","data":{"name":"e"},"transform":[{"filter":"datum.g=='Casq1'"}],"encoding":{"x":{"field":"x","type":"quantitative","scale":{"domain":[-0.48,2.54],"nice":false},"axis":{"values":[0,1,2],"title":null,"labelAngle":-45,"labelAlign":"right","labelBaseline":"top","labelFontSize":9,"labelExpr":"datum.value==0?'WT':datum.value==1?'KO/KO':'S637A/S637A'"}},"y":{"field":"y","type":"quantitative","scale":{"domain":[0,60],"nice":false},"axis":{"values":[0,5,10,15,20,25,30,35,40,45,50,55,60],"title":"Relative gene expression to Gapdh","titlePadding":4.5,"labelExpr":"datum.value%10?'':datum.label","tickSize":{"condition":{"test":"datum.value%10!=0","value":2},"value":4}}}},"layer":[{"transform":[{"filter":"datum.k=='c'||datum.k=='t'"}],"mark":{"type":"rule","color":"#777"},"encoding":{"y2":{"field":"y2"}}},{"transform":[{"filter":"datum.k=='c'"}],"mark":{"type":"tick","orient":"horizontal","size":9,"thickness":1,"color":"#777"}},{"transform":[{"filter":"datum.k=='b'"}],"mark":{"type":"bar","size":17,"stroke":"#777","orient":"vertical"},"encoding":{"color":{"field":"x","type":"nominal","scale":{"domain":[0,1,2],"range":["#ffffff","#adadad","#000000"]},"legend":null}}},{"transform":[{"filter":"datum.k=='r'"}],"mark":{"type":"rule","color":"#777"},"encoding":{"x2":{"field":"x2"}}},{"transform":[{"filter":"datum.k=='p'"}],"mark":{"type":"text","fontSize":5.5,"dy":-3,"color":"#444"},"encoding":{"text":{"field":"p"}}}]}
],"spacing":0,"bounds":"flush"},
{"width":1,"height":193,"data":{"values":[{}]},"mark":{"type":"point","opacity":0}},
{"hconcat":[{"width":68,"height":1,"data":{"values":[{}]},"mark":{"type":"point","opacity":0}},
{"width":80,"height":109,"title":"Hopx","data":{"name":"e"},"transform":[{"filter":"datum.g=='Hopx'"}],"encoding":{"x":{"field":"x","type":"quantitative","scale":{"domain":[-0.48,2.54],"nice":false},"axis":{"values":[0,1,2],"title":null,"labelAngle":-45,"labelAlign":"right","labelBaseline":"top","labelFontSize":8.4,"labelPadding":1,"labelExpr":"datum.value==0?'WT':datum.value==1?'KO/KO':'S837A/S837A'"}},"y":{"field":"y","type":"quantitative","scale":{"domain":[0,2],"nice":false},"axis":{"values":[0,0.5,1,1.5,2],"format":"d","title":"Relative gene expression to Gapdh","titlePadding":3.5,"labelExpr":"datum.value%1?'':datum.label","tickSize":{"condition":{"test":"datum.value%1!=0","value":2},"value":4}}}},"layer":[{"transform":[{"filter":"datum.k=='c'||datum.k=='t'"}],"mark":{"type":"rule","color":"#777"},"encoding":{"y2":{"field":"y2"}}},{"transform":[{"filter":"datum.k=='c'"}],"mark":{"type":"tick","orient":"horizontal","size":9,"thickness":1,"color":"#777"}},{"transform":[{"filter":"datum.k=='b'"}],"mark":{"type":"bar","size":17,"stroke":"#777","orient":"vertical"},"encoding":{"color":{"field":"x","type":"nominal","scale":{"domain":[0,1,2],"range":["#ffffff","#adadad","#000000"]},"legend":null}}},{"transform":[{"filter":"datum.k=='r'"}],"mark":{"type":"rule","color":"#777"},"encoding":{"x2":{"field":"x2"}}},{"transform":[{"filter":"datum.k=='p'"}],"mark":{"type":"text","fontSize":5.5,"dy":-3,"color":"#444"},"encoding":{"text":{"field":"p"}}}]},
{"width":45,"height":1,"data":{"values":[{}]},"mark":{"type":"point","opacity":0}},
{"width":80,"height":109,"title":"Myh7b","data":{"name":"e"},"transform":[{"filter":"datum.g=='Myh7b'"}],"encoding":{"x":{"field":"x","type":"quantitative","scale":{"domain":[-0.48,2.54],"nice":false},"axis":{"values":[0,1,2],"title":null,"labelAngle":-45,"labelAlign":"right","labelBaseline":"top","labelFontSize":8.4,"labelPadding":1,"labelExpr":"datum.value==0?'WT':datum.value==1?'KO/KO':'S837A/S837A'"}},"y":{"field":"y","type":"quantitative","scale":{"domain":[0,2],"nice":false},"axis":{"values":[0,0.5,1,1.5,2],"format":"d","title":"Relative gene expression to Gapdh","titlePadding":3.5,"labelExpr":"datum.value%1?'':datum.label","tickSize":{"condition":{"test":"datum.value%1!=0","value":2},"value":4}}}},"layer":[{"transform":[{"filter":"datum.k=='c'||datum.k=='t'"}],"mark":{"type":"rule","color":"#777"},"encoding":{"y2":{"field":"y2"}}},{"transform":[{"filter":"datum.k=='c'"}],"mark":{"type":"tick","orient":"horizontal","size":9,"thickness":1,"color":"#777"}},{"transform":[{"filter":"datum.k=='b'"}],"mark":{"type":"bar","size":17,"stroke":"#777","orient":"vertical"},"encoding":{"color":{"field":"x","type":"nominal","scale":{"domain":[0,1,2],"range":["#ffffff","#adadad","#000000"]},"legend":null}}},{"transform":[{"filter":"datum.k=='r'"}],"mark":{"type":"rule","color":"#777"},"encoding":{"x2":{"field":"x2"}}},{"transform":[{"filter":"datum.k=='p'"}],"mark":{"type":"text","fontSize":5.5,"dy":-3,"color":"#444"},"encoding":{"text":{"field":"p"}}}]},
{"width":45,"height":1,"data":{"values":[{}]},"mark":{"type":"point","opacity":0}},
{"width":80,"height":109,"title":"Chaer1","data":{"name":"e"},"transform":[{"filter":"datum.g=='Chaer1'"}],"encoding":{"x":{"field":"x","type":"quantitative","scale":{"domain":[-0.48,2.54],"nice":false},"axis":{"values":[0,1,2],"title":null,"labelAngle":-45,"labelAlign":"right","labelBaseline":"top","labelFontSize":8.4,"labelPadding":1,"labelExpr":"datum.value==0?'WT':datum.value==1?'KO/KO':'S837A/S837A'"}},"y":{"field":"y","type":"quantitative","scale":{"domain":[0,2],"nice":false},"axis":{"values":[0,0.5,1,1.5,2],"format":"d","title":"Relative gene expression to Gapdh","titlePadding":3.5,"labelExpr":"datum.value%1?'':datum.label","tickSize":{"condition":{"test":"datum.value%1!=0","value":2},"value":4}}}},"layer":[{"transform":[{"filter":"datum.k=='c'||datum.k=='t'"}],"mark":{"type":"rule","color":"#777"},"encoding":{"y2":{"field":"y2"}}},{"transform":[{"filter":"datum.k=='c'"}],"mark":{"type":"tick","orient":"horizontal","size":9,"thickness":1,"color":"#777"}},{"transform":[{"filter":"datum.k=='b'"}],"mark":{"type":"bar","size":17,"stroke":"#777","orient":"vertical"},"encoding":{"color":{"field":"x","type":"nominal","scale":{"domain":[0,1,2],"range":["#ffffff","#adadad","#000000"]},"legend":null}}},{"transform":[{"filter":"datum.k=='r'"}],"mark":{"type":"rule","color":"#777"},"encoding":{"x2":{"field":"x2"}}},{"transform":[{"filter":"datum.k=='p'"}],"mark":{"type":"text","fontSize":5.5,"dy":-3,"color":"#444"},"encoding":{"text":{"field":"p"}}}]}
],"spacing":0,"bounds":"flush"}
]}
